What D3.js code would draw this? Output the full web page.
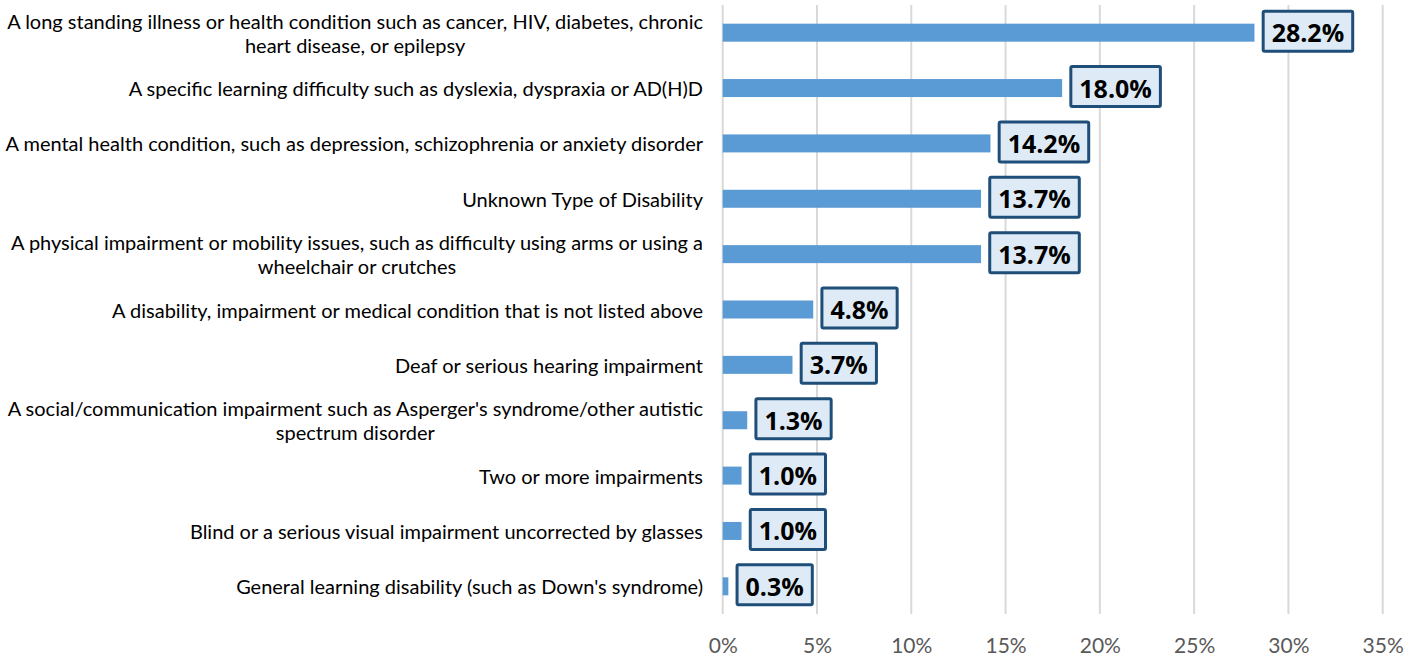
<!DOCTYPE html>
<html>
<head>
<meta charset="utf-8">
<script src="https://cdn.jsdelivr.net/npm/d3@7"></script>
<style>
  html, body { margin: 0; padding: 0; background: #fff; }
  svg { display: block; }
</style>
</head>
<body>
<div id="chart"></div>
<script>
// categories (line breaks as in the original wrapped labels)
var categories = [
  "A long standing illness or health condition such as cancer, HIV, diabetes, chronic\nheart disease, or epilepsy",
  "A specific learning difficulty such as dyslexia, dyspraxia or AD(H)D",
  "A mental health condition, such as depression, schizophrenia or anxiety disorder",
  "Unknown Type of Disability",
  "A physical impairment or mobility issues, such as difficulty using arms or using a\nwheelchair or crutches",
  "A disability, impairment or medical condition that is not listed above",
  "Deaf or serious hearing impairment",
  "A social/communication impairment such as Asperger's syndrome/other autistic\nspectrum disorder",
  "Two or more impairments",
  "Blind or a serious visual impairment uncorrected by glasses",
  "General learning disability (such as Down's syndrome)"
];
var values = [28.2, 18.0, 14.2, 13.7, 13.7, 4.8, 3.7, 1.3, 1.0, 1.0, 0.3];
var tickValues = [0, 5, 10, 15, 20, 25, 30, 35];

var W = 1420, H = 660;
var margin = { top: 5, bottom: 46, left: 722.7, right: 37.3 };
var labelFont = "Lato, 'Open Sans', sans-serif";
var valueFont = "'Open Sans', sans-serif";

var data = categories.map(function(c, i){ return { cat: c, value: values[i] }; });

var svg = d3.select("#chart").append("svg")
  .attr("width", W)
  .attr("height", H);

var xscale = d3.scaleLinear().domain([0, 35]).range([margin.left, W - margin.right]);
var yscale = d3.scaleBand()
  .domain(categories)
  .range([margin.top, H - margin.bottom])
  .paddingInner(0.675)
  .paddingOuter(0.3375);

// gridlines
svg.append("g").attr("class", "grid")
  .selectAll("line")
  .data(tickValues)
  .join("line")
  .attr("x1", d => xscale(d))
  .attr("x2", d => xscale(d))
  .attr("y1", margin.top)
  .attr("y2", H - margin.bottom)
  .attr("stroke", "#d9d9d9")
  .attr("stroke-width", 2);

// x axis
var xaxis = d3.axisBottom(xscale)
  .tickValues(tickValues)
  .tickSize(0)
  .tickPadding(0)
  .tickFormat(d => d + "%");
var g_xaxis = svg.append("g")
  .attr("transform", `translate(0,${H - margin.bottom + 24})`)
  .call(xaxis);
g_xaxis.select(".domain").remove();
g_xaxis.selectAll("text")
  .attr("font-family", labelFont)
  .attr("font-size", 21)
  .attr("fill", "#595959");

// bars
svg.append("g")
  .selectAll("rect")
  .data(data)
  .join("rect")
  .attr("x", xscale(0))
  .attr("y", d => yscale(d.cat))
  .attr("width", d => xscale(d.value) - xscale(0))
  .attr("height", yscale.bandwidth())
  .attr("fill", "#5b9bd5");

// category labels, right aligned block, lines centred inside it
var labelRight = 703;
var labelMaxW = 698;  // widest label line in the reference
var lineH = 24;
var labels = svg.append("g")
  .selectAll("text")
  .data(data)
  .join("text")
  .attr("font-family", labelFont)
  .attr("font-size", 19.5)
  .attr("fill", "#000");

labels.selectAll("tspan")
  .data(d => d.cat.split("\n"))
  .join("tspan")
  .text(l => l);

// fit the font so the longest line fills the label area like the original
var longest = 0;
labels.selectAll("tspan").each(function(){ longest = Math.max(longest, this.getComputedTextLength()); });
var labelSize = 19.5 * labelMaxW / longest;
labels.attr("font-size", labelSize);

labels.each(function(d){
  var spans = d3.select(this).selectAll("tspan");
  var n = spans.size();
  var cy = yscale(d.cat) + yscale.bandwidth() / 2;
  var widest = 0;
  spans.each(function(){ widest = Math.max(widest, this.getComputedTextLength()); });
  var cx = labelRight - widest / 2;
  spans
    .attr("x", cx)
    .attr("text-anchor", "middle")
    .attr("dominant-baseline", "central")
    .attr("y", (l, i) => cy + (i - (n - 1) / 2) * lineH);
});

// data label boxes
var boxes = svg.append("g")
  .selectAll("g")
  .data(data)
  .join("g");

boxes.each(function(d){
  var g = d3.select(this);
  var cy = yscale(d.cat) + yscale.bandwidth() / 2 - 1.5;
  var x0 = xscale(d.value) + 8.7;
  var rect = g.append("rect");
  var txt = g.append("text")
    .attr("font-family", valueFont)
    .attr("font-weight", "bold")
    .attr("font-size", 25)
    .attr("fill", "#000")
    .attr("dominant-baseline", "central")
    .text(d.value.toFixed(1) + "%");
  var tw = txt.node().getComputedTextLength();
  var padX = 8.5, bh = 40;
  rect
    .attr("x", x0)
    .attr("y", cy - bh / 2)
    .attr("width", tw + padX * 2)
    .attr("height", bh)
    .attr("rx", 1.5)
    .attr("fill", "#deebf7")
    .attr("stroke", "#1f4e79")
    .attr("stroke-width", 3);
  txt.attr("x", x0 + padX).attr("y", cy + 1);
});
</script>
</body>
</html>
